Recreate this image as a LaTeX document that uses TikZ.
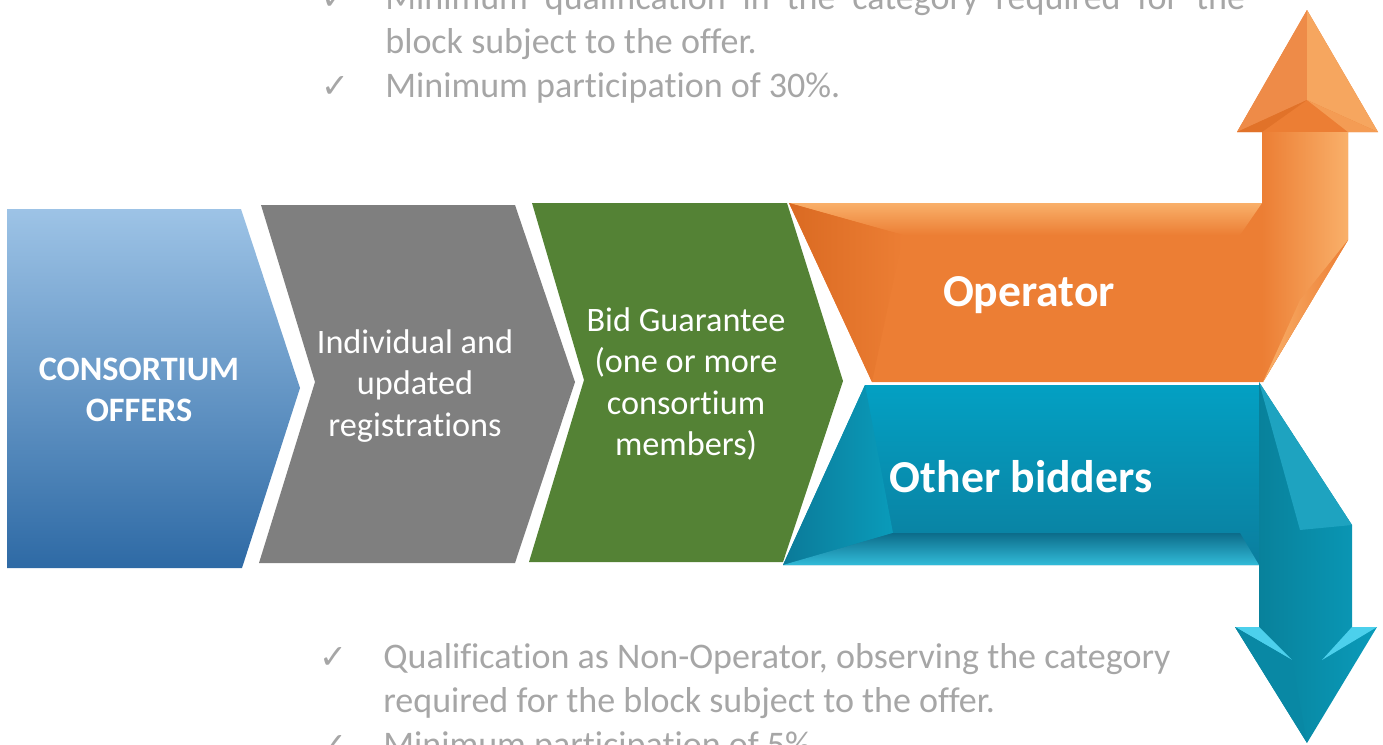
\documentclass[tikz,border=0pt]{standalone}
\usepackage{fontspec}
\setmainfont{Carlito}[Ligatures=NoCommon]
\newfontfamily\symfont{DejaVu Sans}
\usepackage{xcolor}
\usetikzlibrary{positioning}

\definecolor{cblueT}{HTML}{9DC3E6}
\definecolor{cblueB}{HTML}{2E6AA5}
\definecolor{cgray}{HTML}{7F7F7F}
\definecolor{cgreen}{HTML}{548235}
\definecolor{corange}{HTML}{EC7E34}
\definecolor{corangeL}{HTML}{F9B06A}
\definecolor{corangeD}{HTML}{DA6A22}
\definecolor{ctealT}{HTML}{03A0C3}
\definecolor{ctealB}{HTML}{0B7E9E}
\definecolor{cteal}{HTML}{0A9BBA}
\definecolor{ctealL}{HTML}{4CD0EC}
\definecolor{ctealD}{HTML}{0C6C8A}
\definecolor{ctext}{HTML}{A6A6A6}

\begin{document}
\begin{tikzpicture}[x=0.02cm, y=-0.02cm,
  steplbl/.style={text=white, align=center, inner sep=0pt, font=\fontsize{19.5}{23.5}\selectfont},
  biglbl/.style={text=white, inner sep=0pt, font=\fontsize{26}{30}\selectfont\bfseries},
  note/.style={text=ctext, anchor=base west, inner sep=0pt, font=\fontsize{20.5}{25}\selectfont},
  tick/.style={text=ctext, anchor=base, inner sep=0pt, font=\symfont\fontsize{19}{22}\selectfont}
]
\useasboundingbox (0,0) rectangle (1383,744);
\clip (0,0) rectangle (1383,744);

% process chevrons
\shade[top color=cblueT, bottom color=cblueB] (7,209) -- (241,209) -- (300,388) -- (242,568) -- (7,568) -- cycle;
\fill[cgray] (261,205) -- (515,205) -- (575,382) -- (515,563) -- (259,563) -- (315,382) -- cycle;
\fill[cgreen] (532,203) -- (787,203) -- (843,381) -- (783,562) -- (529,562) -- (584,380) -- cycle;

% operator ribbon (up)
\fill[corange] (789,203) -- (1262,203) -- (1262,132) -- (1237,132) -- (1307,10) -- (1378,132) -- (1348,132) -- (1348,240) -- (1263,382) -- (872,382) -- cycle;
\shade[top color=corangeL, bottom color=corange] (789,203) -- (1262,203) -- (1240,235) -- (903,235) -- cycle;
\shade[left color=corangeD, right color=corange] (789,203) -- (903,235) -- (872,382) -- cycle;
\shade[left color=corange, right color=corangeL] (1262,132) -- (1348,132) -- (1348,240) -- (1263,382) -- cycle;
\shade[left color=corangeL, right color=corange] (1348,240) -- (1263,382) -- (1300,300) -- cycle;
\fill[corange!90!white] (1237,132) -- (1307,10) -- (1307,100) -- cycle;
\fill[corangeL!80!corange] (1307,10) -- (1378,132) -- (1307,100) -- cycle;
\fill[corangeD!60!corange] (1237,132) -- (1307,100) -- (1262,132) -- cycle;
\fill[corangeL!60!corange] (1378,132) -- (1307,100) -- (1348,132) -- cycle;

% other bidders ribbon (down)
\shade[top color=ctealT, bottom color=ctealB] (865,385) -- (1259,385) -- (1259,565) -- (783,565) -- cycle;
\shade[left color=ctealD!70!cteal, right color=cteal] (865,385) -- (893,533) -- (783,565) -- cycle;
\shade[top color=ctealD, bottom color=ctealL!60!cteal] (783,565) -- (893,533) -- (1240,533) -- (1259,565) -- cycle;
\shade[left color=cteal!80!black, right color=cteal] (1259,382) -- (1352,525) -- (1352,627) -- (1377,627) -- (1307,743) -- (1235,627) -- (1259,627) -- cycle;
\fill[cteal!92!white] (1259,382) -- (1352,525) -- (1300,530) -- cycle;
\fill[ctealL] (1235,627) -- (1259,627) -- (1292,660) -- cycle;
\fill[ctealL] (1377,627) -- (1352,627) -- (1322,660) -- cycle;
\fill[cteal!88!black] (1235,627) -- (1292,660) -- (1307,743) -- cycle;

% labels
\node[steplbl, font=\fontsize{19.5}{23.5}\selectfont\bfseries] (offers) at (139,390) {CONSORTIUM\\OFFERS};
\node[steplbl] (regs) at (415,386) {Individual and\\updated\\registrations};
\node[steplbl] (bid) at (686,384) {Bid Guarantee\\(one or more\\consortium\\members)};
\node[biglbl] (oper) at (1029,295) {Operator};
\node[biglbl] (others) at (1021,477) {Other bidders};

% requirements
\node[tick] (t1) at (335,9) {✓};
\node[note] (n1a) at (385,9) {\makebox[17.2cm][s]{Minimum qualification in the category required for the}};
\node[note] (n1b) at (385,53) {block subject to the offer.};
\node[tick] (t2) at (335,97) {✓};
\node[note] (n2) at (385,97) {Minimum participation of 30\%.};
\node[tick] (t3) at (333,668) {✓};
\node[note] (n3a) at (383,668) {Qualification as Non-Operator, observing the category};
\node[note] (n3b) at (383,712) {required for the block subject to the offer.};
\node[tick] (t4) at (333,756) {✓};
\node[note] (n4) at (383,756) {Minimum participation of 5\%.};
\end{tikzpicture}
\end{document}
